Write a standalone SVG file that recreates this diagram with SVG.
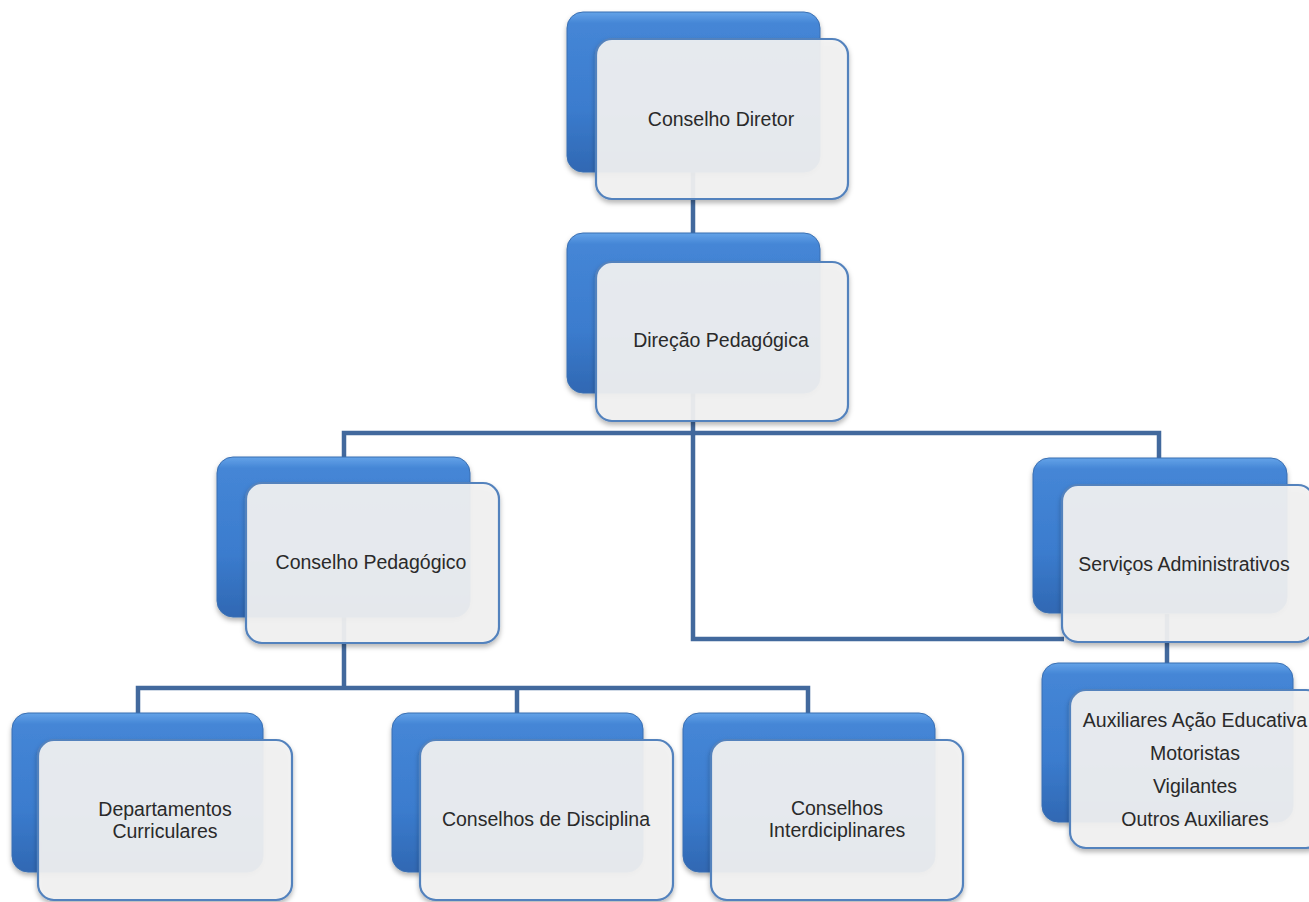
<svg xmlns="http://www.w3.org/2000/svg" width="1309" height="902" viewBox="0 0 1309 902">
<defs>
<linearGradient id="blue" x1="0" y1="0" x2="0" y2="1">
<stop offset="0" stop-color="#64a3e8"/>
<stop offset="0.07" stop-color="#4586d6"/>
<stop offset="0.6" stop-color="#3b7cce"/>
<stop offset="1" stop-color="#3068b3"/>
</linearGradient>
<filter id="sh" x="-10%" y="-10%" width="120%" height="125%">
<feDropShadow dx="0" dy="3" stdDeviation="2.5" flood-color="#000" flood-opacity="0.3"/>
</filter>
</defs>
<style>
.back{fill:url(#blue);stroke:#3a6fb2;stroke-width:1;filter:url(#sh)}
.front{fill:#f2f2f2;fill-opacity:0.92;stroke:#5382bd;stroke-width:2.2;filter:url(#sh)}
.lbl{font-family:"Liberation Sans",Arial,sans-serif;font-size:19.5px;fill:#2a2a2a;text-anchor:middle}
.con{fill:none;stroke:#42699d;stroke-width:4.5}
</style>
<rect width="1309" height="902" fill="#ffffff"/>
<g id="connectors">
<path class="con" d="M693,100 V639 H1064"/>
<path class="con" d="M344,690 V433 H1159 V460"/>
<path class="con" d="M138,715 V688 H808 V715"/>
<path class="con" d="M517,688 V715"/>
<path class="con" d="M1167,614 V665"/>
</g>
<g id="conselho-diretor">
<rect class="back" x="567" y="12" width="253" height="160" rx="16"/>
<rect class="front" x="596" y="39" width="252" height="160" rx="16"/>
<text class="lbl" x="721" y="126">Conselho Diretor</text>
</g>
<g id="direcao-pedagogica">
<rect class="back" x="567" y="233" width="253" height="160" rx="16"/>
<rect class="front" x="596" y="262" width="252" height="159" rx="16"/>
<text class="lbl" x="721" y="347">Direção Pedagógica</text>
</g>
<g id="conselho-pedagogico">
<rect class="back" x="217" y="457" width="253" height="160" rx="16"/>
<rect class="front" x="246" y="483" width="253" height="160" rx="16"/>
<text class="lbl" x="371" y="569">Conselho Pedagógico</text>
</g>
<g id="servicos-administrativos">
<rect class="back" x="1033" y="458" width="254" height="155" rx="16"/>
<rect class="front" x="1062" y="485" width="252" height="157" rx="16"/>
<text class="lbl" x="1184" y="571">Serviços Administrativos</text>
</g>
<g id="auxiliares">
<rect class="back" x="1042" y="663" width="251" height="159" rx="16"/>
<rect class="front" x="1070" y="690" width="252" height="158" rx="16"/>
<text class="lbl" x="1195" y="727">Auxiliares Ação Educativa</text>
<text class="lbl" x="1195" y="760">Motoristas</text>
<text class="lbl" x="1195" y="793">Vigilantes</text>
<text class="lbl" x="1195" y="826">Outros Auxiliares</text>
</g>
<g id="departamentos-curriculares">
<rect class="back" x="12" y="713" width="251" height="159" rx="16"/>
<rect class="front" x="38" y="740" width="254" height="160" rx="16"/>
<text class="lbl" x="165" y="816">Departamentos</text>
<text class="lbl" x="165" y="838">Curriculares</text>
</g>
<g id="conselhos-disciplina">
<rect class="back" x="392" y="713" width="251" height="159" rx="16"/>
<rect class="front" x="420" y="740" width="253" height="160" rx="16"/>
<text class="lbl" x="546" y="826">Conselhos de Disciplina</text>
</g>
<g id="conselhos-interdiciplinares">
<rect class="back" x="683" y="713" width="252" height="159" rx="16"/>
<rect class="front" x="711" y="740" width="252" height="160" rx="16"/>
<text class="lbl" x="837" y="815">Conselhos</text>
<text class="lbl" x="837" y="837">Interdiciplinares</text>
</g>
</svg>
